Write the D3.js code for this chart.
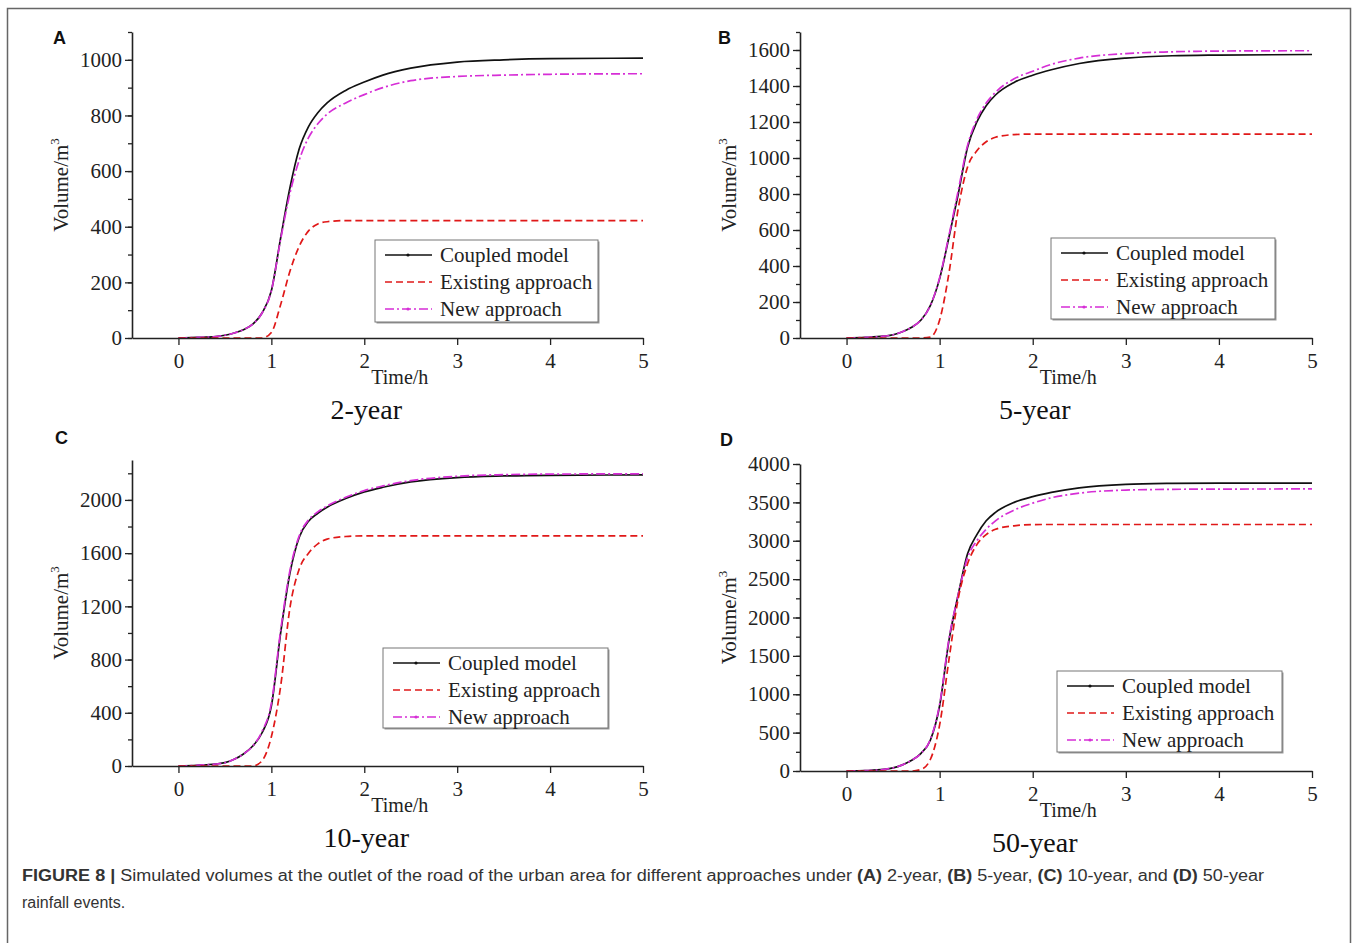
<!DOCTYPE html>
<html>
<head>
<meta charset="utf-8">
<script src="https://cdn.jsdelivr.net/npm/d3@7"></script>
<style>
  body { margin: 0; background: #fff; }
  svg { display: block; }
</style>
</head>
<body>
<svg id="fig" width="1357" height="943"></svg>
<script>
// time steps (h) shared by every series
const time = [0, 0.2, 0.4, 0.5, 0.6, 0.7, 0.8, 0.9, 1.0, 1.1, 1.2, 1.3, 1.4, 1.5, 1.6, 1.8, 2.0, 2.2, 2.5, 3.0, 3.5, 4.0, 5.0];

// (A) 2-year
const coupledA  = [0, 2, 5, 10, 18, 30, 50, 90, 170, 360, 540, 680, 760, 810, 845, 890, 920, 945, 970, 992, 1000, 1004, 1006];
const existingA = [0, 0, 0, 0, 0, 0, 0, 0, 20, 120, 240, 330, 385, 410, 418, 422, 422, 422, 422, 422, 422, 422, 422];
const newA      = [0, 2, 5, 10, 18, 30, 50, 90, 170, 355, 520, 640, 720, 770, 805, 845, 875, 900, 925, 940, 945, 948, 950];
// (B) 5-year
const coupledB  = [0, 3, 10, 18, 35, 60, 100, 180, 330, 560, 800, 1060, 1200, 1290, 1350, 1420, 1460, 1490, 1525, 1555, 1568, 1572, 1575];
const existingB = [0, 0, 0, 0, 0, 0, 0, 5, 100, 360, 720, 950, 1040, 1090, 1115, 1130, 1133, 1133, 1133, 1133, 1133, 1133, 1133];
const newB      = [0, 3, 10, 18, 35, 60, 100, 180, 335, 570, 820, 1070, 1215, 1305, 1365, 1440, 1482, 1520, 1555, 1580, 1590, 1594, 1596];
// (C) 10-year
const coupledC  = [0, 5, 15, 25, 50, 90, 150, 250, 450, 1000, 1450, 1720, 1840, 1900, 1945, 2010, 2060, 2095, 2135, 2168, 2180, 2185, 2188];
const existingC = [0, 0, 0, 0, 0, 0, 0, 40, 220, 600, 1190, 1480, 1600, 1670, 1705, 1725, 1730, 1730, 1730, 1730, 1730, 1730, 1730];
const newC      = [0, 5, 15, 25, 50, 90, 150, 260, 470, 1020, 1470, 1730, 1850, 1910, 1955, 2020, 2070, 2105, 2145, 2178, 2190, 2194, 2196];
// (D) 50-year
const coupledD  = [0, 5, 20, 40, 80, 140, 230, 400, 850, 1700, 2300, 2830, 3080, 3260, 3370, 3500, 3575, 3630, 3690, 3735, 3748, 3752, 3752];
const existingD = [0, 0, 0, 0, 0, 0, 20, 150, 600, 1450, 2250, 2700, 2950, 3080, 3150, 3195, 3210, 3212, 3212, 3212, 3212, 3212, 3212];
const newD      = [0, 5, 20, 40, 80, 140, 230, 410, 870, 1720, 2300, 2780, 3000, 3150, 3260, 3400, 3490, 3560, 3620, 3660, 3670, 3673, 3675];

const seriesNames = ['Coupled model', 'Existing approach', 'New approach'];
const panelLetters = ['A', 'B', 'C', 'D'];
const panelTitles = ['2-year', '5-year', '10-year', '50-year'];
const xTicks = [0, 1, 2, 3, 4, 5];
const yTicksA = [0, 200, 400, 600, 800, 1000];
const yTicksB = [0, 200, 400, 600, 800, 1000, 1200, 1400, 1600];
const yTicksC = [0, 400, 800, 1200, 1600, 2000];
const yTicksD = [0, 500, 1000, 1500, 2000, 2500, 3000, 3500, 4000];
const yMaxes = [1100, 1700, 2300, 4000];
const yMinorSteps = [100, 100, 200, 250];

const serif = '"Liberation Serif", "Times New Roman", serif';
const styles = [
  { color: '#111', width: 1.7, dash: null },
  { color: '#e01818', width: 1.7, dash: '7,4' },
  { color: '#d62ed6', width: 1.7, dash: '9,3,2,3' }
];

const panels = [
  { series: [coupledA, existingA, newA], ticks: yTicksA, x0: 132, x1: 643, yb: 338, yt: 32, letter: [53, 44], legend: [375, 240, 223, 82] },
  { series: [coupledB, existingB, newB], ticks: yTicksB, x0: 800, x1: 1312, yb: 338, yt: 32, letter: [718, 44], legend: [1051, 238, 224, 81] },
  { series: [coupledC, existingC, newC], ticks: yTicksC, x0: 132, x1: 643, yb: 766, yt: 460, letter: [55, 444], legend: [383, 648, 225, 80] },
  { series: [coupledD, existingD, newD], ticks: yTicksD, x0: 800, x1: 1312, yb: 771, yt: 464, letter: [720, 446], legend: [1057, 671, 225, 81] }
];

const svg = d3.select('#fig');

// figure frame (open at the bottom)
svg.append('path')
  .attr('d', 'M7.5,943 V8.5 H1350.5 V943')
  .attr('fill', 'none')
  .attr('stroke', '#666')
  .attr('stroke-width', 1.5);

panels.forEach((p, i) => {
  const x = d3.scaleLinear().domain([-0.5, 5]).range([p.x0, p.x1]);
  const y = d3.scaleLinear().domain([0, yMaxes[i]]).range([p.yb, p.yt]);
  const g = svg.append('g');

  // curves
  const line = d3.line()
    .x((d) => x(d[0]))
    .y((d) => y(d[1]))
    .curve(d3.curveMonotoneX);
  [0, 2, 1].forEach((k) => {
    const s = styles[k];
    g.append('path')
      .attr('d', line(time.map((t, j) => [t, p.series[k][j]])))
      .attr('fill', 'none')
      .attr('stroke', s.color)
      .attr('stroke-width', s.width)
      .attr('stroke-dasharray', s.dash);
  });

  // minor y ticks
  g.append('g')
    .attr('transform', 'translate(' + p.x0 + ',0)')
    .call(d3.axisLeft(y)
      .tickValues(d3.range(0, yMaxes[i] + 1, yMinorSteps[i]))
      .tickSize(4).tickSizeOuter(0).tickFormat(''))
    .call((a) => a.select('.domain').remove())
    .selectAll('line').attr('stroke', '#222').attr('stroke-width', 1.3);

  // y axis
  const ya = g.append('g')
    .attr('transform', 'translate(' + p.x0 + ',0)')
    .call(d3.axisLeft(y).tickValues(p.ticks).tickSize(7).tickSizeOuter(0).tickPadding(3).tickFormat(d3.format('d')));
  ya.select('.domain').attr('stroke', '#222').attr('stroke-width', 1.6);
  ya.selectAll('line').attr('stroke', '#222').attr('stroke-width', 1.3);
  ya.selectAll('text').attr('font-family', serif).attr('font-size', 21).attr('fill', '#222');

  // x axis
  const xa = g.append('g')
    .attr('transform', 'translate(0,' + p.yb + ')')
    .call(d3.axisBottom(x).tickValues(xTicks).tickSize(7).tickSizeOuter(0).tickPadding(8).tickFormat(d3.format('d')));
  xa.select('.domain').attr('stroke', '#222').attr('stroke-width', 1.6);
  xa.selectAll('line').attr('stroke', '#222').attr('stroke-width', 1.3);
  xa.selectAll('text').attr('font-family', serif).attr('font-size', 21).attr('fill', '#222');

  // axis titles
  g.append('text')
    .attr('x', x(2) + 7)
    .attr('y', p.yb + 46)
    .attr('font-family', serif)
    .attr('font-size', 20)
    .attr('fill', '#222')
    .text('Time/h');

  const yt = g.append('text')
    .attr('transform', 'translate(' + (p.x0 - 64) + ',' + (p.yb + p.yt) / 2 + ') rotate(-90)')
    .attr('text-anchor', 'middle')
    .attr('font-family', serif)
    .attr('font-size', 21)
    .attr('fill', '#222');
  yt.append('tspan').text('Volume/m');
  yt.append('tspan').attr('dy', -9).attr('font-size', 13).text('3');

  // panel subtitle
  g.append('text')
    .attr('x', x(2) + 2)
    .attr('y', p.yb + 81)
    .attr('text-anchor', 'middle')
    .attr('font-family', serif)
    .attr('font-size', 28)
    .attr('fill', '#111')
    .text(panelTitles[i]);

  // panel letter
  g.append('text')
    .attr('x', p.letter[0])
    .attr('y', p.letter[1])
    .attr('font-family', '"Liberation Sans", Arial, sans-serif')
    .attr('font-weight', 'bold')
    .attr('font-size', 18)
    .attr('fill', '#111')
    .text(panelLetters[i]);

  // legend
  const [lx, ly, lw, lh] = p.legend;
  const lg = g.append('g').attr('transform', 'translate(' + lx + ',' + ly + ')');
  lg.append('rect')
    .attr('x', 1.5).attr('y', 1.5)
    .attr('width', lw).attr('height', lh)
    .attr('fill', '#999');
  lg.append('rect')
    .attr('width', lw).attr('height', lh)
    .attr('fill', '#fff')
    .attr('stroke', '#777')
    .attr('stroke-width', 1);
  seriesNames.forEach((name, k) => {
    const s = styles[k];
    const cy = 15 + k * 27;
    lg.append('line')
      .attr('x1', 10).attr('x2', 57)
      .attr('y1', cy).attr('y2', cy)
      .attr('stroke', s.color)
      .attr('stroke-width', s.width)
      .attr('stroke-dasharray', s.dash);
    if (k !== 1) {
      lg.append('circle')
        .attr('cx', 33).attr('cy', cy).attr('r', 1.6)
        .attr('fill', s.color);
    }
    lg.append('text')
      .attr('x', 65)
      .attr('y', cy + 7)
      .attr('font-family', serif)
      .attr('font-size', 21)
      .attr('fill', '#222')
      .text(name);
  });
});

// caption
const cap = svg.append('g')
  .attr('font-family', '"Liberation Sans Narrow", "Arial Narrow", "Liberation Sans", sans-serif')
  .attr('font-size', 16)
  .attr('fill', '#333');
const line1 = cap.append('text').attr('x', 22).attr('y', 881)
  .attr('textLength', 1242).attr('lengthAdjust', 'spacingAndGlyphs');
[['FIGURE 8 |', true], [' Simulated volumes at the outlet of the road of the urban area for different approaches under ', false],
 ['(A)', true], [' 2-year, ', false], ['(B)', true], [' 5-year, ', false], ['(C)', true], [' 10-year, and ', false],
 ['(D)', true], [' 50-year', false]].forEach((d) => {
  line1.append('tspan').attr('font-weight', d[1] ? 'bold' : null).text(d[0]);
});
cap.append('text').attr('x', 22).attr('y', 908).text('rainfall events.');
</script>
</body>
</html>
